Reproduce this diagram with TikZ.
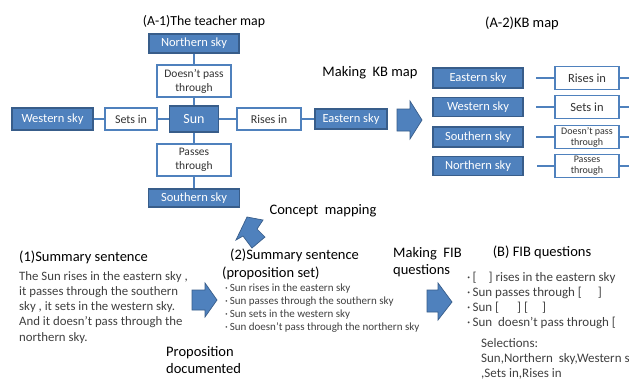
\documentclass[tikz,border=0pt]{standalone}
\usepackage{fontspec}
\setmainfont{Carlito}
\definecolor{skyblue}{RGB}{79,129,189}
\definecolor{skyedge}{RGB}{56,93,138}
\definecolor{bodytext}{RGB}{64,64,64}
\tikzset{
  concept/.style={draw=skyedge, fill=skyblue, line width=1.2pt, text=white,
    inner sep=0pt, font=\fontsize{12.5}{14}\selectfont},
  linkbox/.style={draw=skyblue, fill=white, line width=1.6pt, text=black!80,
    inner sep=0pt, align=center, font=\fontsize{12}{14}\selectfont},
  pairlink/.style={linkbox, font=\fontsize{11.5}{14}\selectfont},
  smalllink/.style={linkbox, font=\fontsize{10}{11}\selectfont},
  wire/.style={draw=skyblue, line width=2.6pt},
  blockarrow/.style={fill=skyblue, draw=skyedge, line width=0.7pt, line join=miter},
  caption/.style={inner sep=0pt, align=left, font=\fontsize{14.5}{17.5}\selectfont},
  bodypara/.style={inner sep=0pt, align=left, text=bodytext, font=\fontsize{12.8}{15.3}\selectfont},
  bulletlist/.style={inner sep=0pt, align=left, text=bodytext, font=\fontsize{11}{13}\selectfont},
  fiblist/.style={inner sep=0pt, align=left, text=bodytext, font=\fontsize{13}{15}\selectfont},
}
\begin{document}
\begin{tikzpicture}[x=1pt, y=-1pt]
\clip (0,0) rectangle (629,378);
\fill[white] (0,0) rectangle (629,378);

% ---------- (A-1) the teacher map ----------
\node[caption, font=\fontsize{13.8}{16}\selectfont] (titleA1) at (204,22) {(A-1)The teacher map};

\node[concept, minimum width=90pt, minimum height=19pt] (tNorth) at (194,43.5) {Northern sky};
\node[pairlink, minimum width=74pt, minimum height=32pt] (tNotPass) at (194,81) {Doesn’t pass\\through};
\node[concept, minimum width=49pt, minimum height=26pt, font=\fontsize{14}{15}\selectfont] (tSun) at (194,119) {Sun};
\node[linkbox, minimum width=52pt, minimum height=22pt] (tSets) at (131,119) {Sets in};
\node[concept, minimum width=81pt, minimum height=22pt] (tWest) at (52.5,119) {Western sky};
\node[linkbox, minimum width=64pt, minimum height=22pt] (tRises) at (269,119) {Rises in};
\node[concept, minimum width=72pt, minimum height=20pt] (tEast) at (351,119) {Eastern sky};
\node[pairlink, minimum width=74pt, minimum height=32pt] (tPass) at (194,160) {Passes\\through};
\node[concept, minimum width=91pt, minimum height=18pt] (tSouth) at (194,198) {Southern sky};

\draw[wire] (tNorth) -- (tNotPass);
\draw[wire] (tNotPass) -- (tSun);
\draw[wire] (tSun) -- (tPass);
\draw[wire] (tPass) -- (tSouth);
\draw[wire] (tWest) -- (tSets);
\draw[wire] (tSets) -- (tSun);
\draw[wire] (tSun) -- (tRises);
\draw[wire] (tRises) -- (tEast);

% ---------- making the KB map ----------
\node[caption] (makeKB) at (370,73) {Making\ \ KB map};
\fill[blockarrow] (397,109) -- (410,109) -- (410,101) -- (422,120) -- (410,139) -- (410,131) -- (397,131) -- cycle;

% ---------- (A-2) the KB map ----------
\node[caption] (titleA2) at (522,23) {(A-2)KB map};

\node[concept, minimum width=90pt, minimum height=20pt] (kEast) at (478,78) {Eastern sky};
\node[concept, minimum width=90pt, minimum height=19pt] (kWest) at (478,107) {Western sky};
\node[concept, minimum width=90pt, minimum height=20pt] (kSouth) at (478,137) {Southern sky};
\node[concept, minimum width=90pt, minimum height=19pt] (kNorth) at (478,166) {Northern sky};

\node[linkbox, minimum width=64pt, minimum height=23pt, font=\fontsize{12.5}{14}\selectfont] (kRises) at (587,78) {Rises in};
\node[linkbox, minimum width=64pt, minimum height=23pt, font=\fontsize{12.5}{14}\selectfont] (kSets) at (587,107) {Sets in};
\node[smalllink, minimum width=64pt, minimum height=23pt] (kNotPass) at (587,137) {Doesn’t pass\\through};
\node[smalllink, minimum width=64pt, minimum height=23pt] (kPass) at (587,166) {Passes\\through};

\coordinate (kRisesIn) at (536,78);   \coordinate (kRisesOut) at (640,78);
\coordinate (kSetsIn) at (536,107);   \coordinate (kSetsOut) at (640,107);
\coordinate (kNotIn) at (536,137);    \coordinate (kNotOut) at (640,137);
\coordinate (kPassIn) at (537,166);   \coordinate (kPassOut) at (640,166);
\draw[wire] (kRisesIn) -- (kRises);  \draw[wire] (kRises) -- (kRisesOut);
\draw[wire] (kSetsIn) -- (kSets);    \draw[wire] (kSets) -- (kSetsOut);
\draw[wire] (kNotIn) -- (kNotPass);  \draw[wire] (kNotPass) -- (kNotOut);
\draw[wire] (kPassIn) -- (kPass);    \draw[wire] (kPass) -- (kPassOut);

% ---------- concept mapping ----------
\node[caption] (conceptMap) at (323,211) {Concept\ \ mapping};
\fill[blockarrow] (265,237) -- (257,229) -- (263,220) -- (247,217) -- (236,240) -- (243,236) -- (252,248) -- cycle;

% ---------- (1) summary sentence ----------
\node[caption, anchor=west] (sum1Title) at (19,257) {(1)Summary sentence};
\node[bodypara, anchor=north west] (sum1Body) at (19,271) {The Sun rises in the eastern sky ,\\it passes through the southern\\sky , it sets in the western sky.\\And it doesn’t pass through the\\northern sky.};

\fill[blockarrow] (192,290) -- (205,290) -- (205,283) -- (217,300) -- (205,317) -- (205,310) -- (192,310) -- cycle;
\node[caption, anchor=north west] (propDoc) at (166,346) {Proposition\\documented};

% ---------- (2) proposition set ----------
\node[caption, anchor=north west] (sum2Title) at (222,249) {\hspace*{8pt}(2)Summary sentence\\(proposition set)};
\node[bulletlist, anchor=north west] (sum2Body) at (225,284) {·\,Sun rises in the eastern sky\\·\,Sun passes through the southern sky\\·\,Sun sets in the western sky\\·\,Sun doesn’t pass through the northern sky};

% ---------- making FIB questions ----------
\node[caption, anchor=north west] (makeFIB) at (393,247) {Making\ \ FIB\\questions};
\fill[blockarrow] (427,290) -- (438,290) -- (438,283) -- (452,302) -- (438,320) -- (438,312) -- (427,312) -- cycle;

% ---------- (B) FIB questions ----------
\node[caption] (titleB) at (542,252) {(B) FIB questions};
\node[fiblist, anchor=north west] (fibBody) at (467,272) {·\,[\hspace{12pt}] rises in the eastern sky\\·\,Sun passes through [\hspace{16pt}]\\·\,Sun [\hspace{18pt}] [\hspace{14pt}]\\·\,Sun\ \ doesn’t pass through [};
\node[fiblist, anchor=north west] (selections) at (481,338) {Selections:\\Sun,Northern\ \ sky,Western sky\\,Sets in,Rises in};
\end{tikzpicture}
\end{document}
